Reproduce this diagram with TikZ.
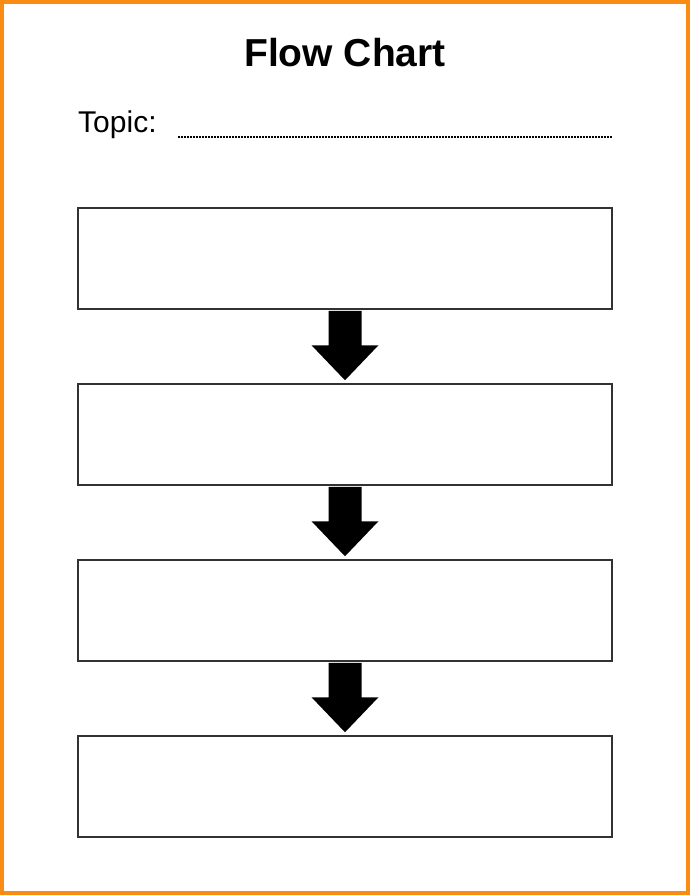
\documentclass[tikz,border=0pt]{standalone}
\usepackage{fontspec}
\setmainfont{Liberation Sans}
\usetikzlibrary{positioning}
\usetikzlibrary{calc}
\definecolor{frameorange}{RGB}{250,140,20}
\definecolor{boxgray}{RGB}{50,50,50}

\tikzset{
    stepbox/.style={draw=boxgray,line width=1.5pt,rectangle,minimum width=534pt,minimum height=101pt,inner sep=0pt},
    blockarrow/.style={fill=black,to path={let \p1=(\tikztostart), \p2=(\tikztotarget) in
        (\x1-16.5pt,\y1-1pt) -- (\x1+16.5pt,\y1-1pt) -- (\x1+16.5pt,\y2+38pt) -- (\x1+33.5pt,\y2+38pt)
        -- (\x1,\y2+3pt) -- (\x1-33.5pt,\y2+38pt) -- (\x1-16.5pt,\y2+38pt) -- cycle}}
}

\begin{document}
\begin{tikzpicture}[x=1pt,y=-1pt]
            \useasboundingbox (0,0) rectangle (690,895);
            \draw[frameorange,line width=4pt] (2,2) rectangle (688,893);

            \node[anchor=base,font=\bfseries\fontsize{39}{44}\selectfont,inner sep=0pt] (title) at (345,66) {Flow Chart};
            \node[anchor=base west,font=\fontsize{30}{35}\selectfont,inner sep=0pt] (topic) at (78,132) {Topic:};
            \coordinate (lineA) at (178,137);
            \coordinate (lineB) at (612,137);
            \draw[line width=2.5pt,dash pattern=on 1.5pt off 1.5pt] (lineA) -- (lineB);

            \node[stepbox] (b1) at (345,258.5) {};
            \node[stepbox,below=73.5pt of b1] (b2) {};
            \node[stepbox,below=73.5pt of b2] (b3) {};
            \node[stepbox,below=73.5pt of b3] (b4) {};

            \foreach \a/\b in {b1/b2,b2/b3,b3/b4} {
                \fill[blockarrow] (\a.south) to (\b.north);
            }
        \end{tikzpicture}
\end{document}
